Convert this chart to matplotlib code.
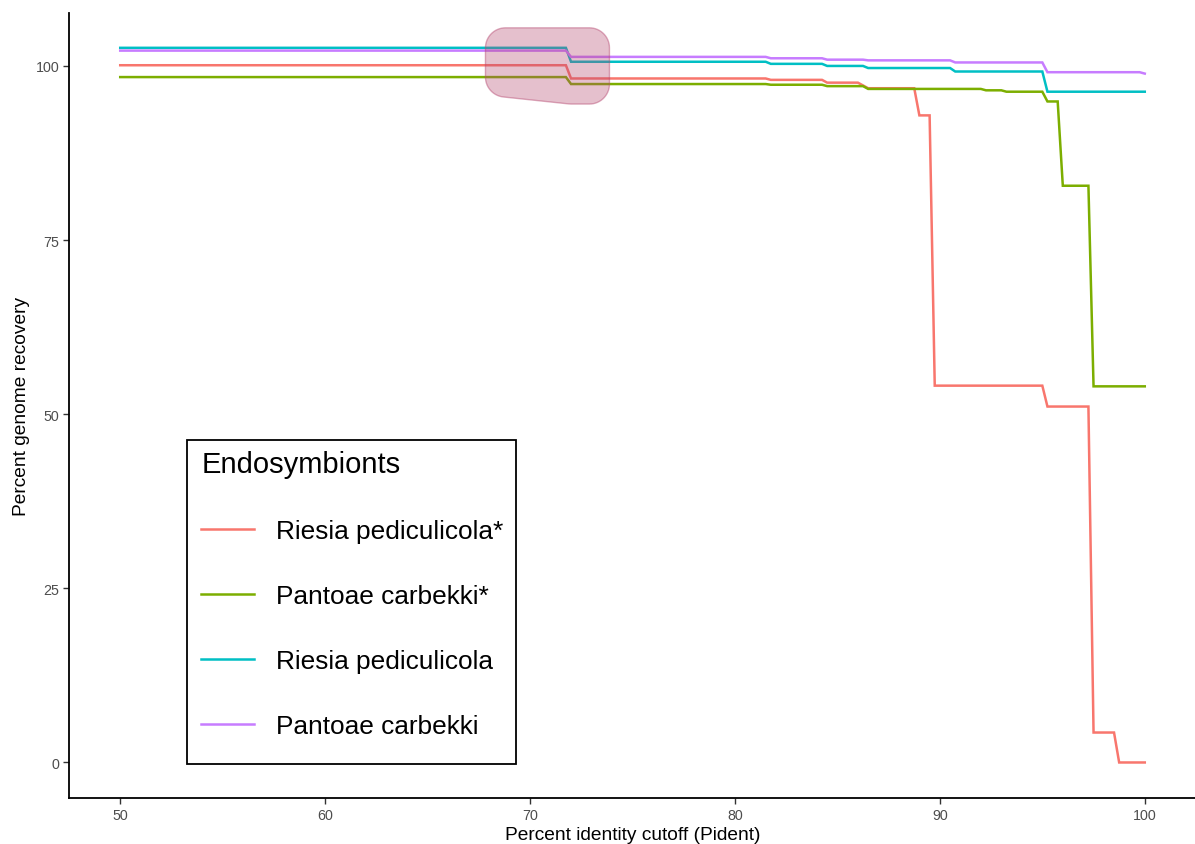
import numpy as np
import matplotlib
matplotlib.use('Agg')
import matplotlib.pyplot as plt
from matplotlib.patches import Polygon, Rectangle
from matplotlib.colors import to_rgba

plt.rcParams['font.family'] = ['Liberation Sans', 'DejaVu Sans']

# percent identity cutoff (x) vs percent genome recovery (y)
riesia_star_x = [50, 71.75, 72, 81.5, 81.75, 84.25, 84.5, 86.0, 86.5, 88.75, 89.0, 89.5, 89.75,
                 95.0, 95.25, 97.25, 97.5, 98.5, 98.75, 100]
riesia_star_y = [100.1, 100.1, 98.2, 98.2, 98.0, 98.0, 97.6, 97.6, 96.8, 96.8, 92.9, 92.9, 54.1,
                 54.1, 51.1, 51.1, 4.3, 4.3, 0.0, 0.0]

pantoae_star_x = [50, 71.75, 72, 81.5, 81.75, 84.25, 84.5, 86.25, 86.5, 92.0, 92.25, 93.0, 93.25,
                  95.0, 95.25, 95.75, 96.0, 97.25, 97.5, 100]
pantoae_star_y = [98.4, 98.4, 97.4, 97.4, 97.3, 97.3, 97.1, 97.1, 96.7, 96.7, 96.5, 96.5, 96.3,
                  96.3, 94.9, 94.9, 82.8, 82.8, 54.0, 54.0]

riesia_x = [50, 71.75, 72, 81.5, 81.75, 84.25, 84.5, 86.25, 86.5, 90.5, 90.75, 95.0, 95.25, 100]
riesia_y = [102.6, 102.6, 100.6, 100.6, 100.3, 100.3, 100.0, 100.0, 99.7, 99.7, 99.2, 99.2, 96.3, 96.3]

pantoae_x = [50, 71.75, 72, 81.5, 81.75, 84.25, 84.5, 86.25, 86.5, 90.5, 90.75, 95.0, 95.25, 99.75, 100]
pantoae_y = [102.2, 102.2, 101.3, 101.3, 101.1, 101.1, 100.9, 100.9, 100.8, 100.8, 100.5, 100.5,
             99.1, 99.1, 98.9]

labels = ['Riesia pediculicola*', 'Pantoae carbekki*', 'Riesia pediculicola', 'Pantoae carbekki']
colours = ['#F8766D', '#7CAE00', '#00BFC4', '#C77CFF']
series = [(riesia_star_x, riesia_star_y), (pantoae_star_x, pantoae_star_y),
          (riesia_x, riesia_y), (pantoae_x, pantoae_y)]

# x window that the highlighted hull wraps
hull_lo, hull_hi = 68.8, 72.9

xticks = [50, 60, 70, 80, 90, 100]
yticks = [0, 25, 50, 75, 100]

W, H = 1195, 845
fig = plt.figure(figsize=(W / 100, H / 100), dpi=100)
ax = fig.add_axes([69 / W, 1 - 799 / H, (1196 - 69) / W, (799 - 14) / H])

handles = []
for (xs, ys), c, lab in zip(series, colours, labels):
    h, = ax.plot(xs, ys, color=c, lw=1.8, label=lab, solid_joinstyle='miter')
    handles.append(h)

ax.set_xlim(47.5, 102.5)
ax.set_ylim(-5.1, 107.6)
ax.set_xticks(xticks)
ax.set_yticks(yticks)
for s in ['top', 'right']:
    ax.spines[s].set_visible(False)
for s in ['left', 'bottom']:
    ax.spines[s].set_linewidth(1.3)
    ax.spines[s].set_color('black')
ax.tick_params(length=4, width=1.0, color='#333333', labelcolor='#4d4d4d', labelsize=10.3, pad=3)
ax.set_xlabel('Percent identity cutoff (Pident)', fontsize=13.8, labelpad=3)
ax.set_ylabel('Percent genome recovery', fontsize=13.8, labelpad=4)


def convex_hull(p):
    p = sorted(map(tuple, p))
    def cross(o, a, b):
        return (a[0] - o[0]) * (b[1] - o[1]) - (a[1] - o[1]) * (b[0] - o[0])
    lower, upper = [], []
    for q in p:
        while len(lower) >= 2 and cross(lower[-2], lower[-1], q) <= 0:
            lower.pop()
        lower.append(q)
    for q in reversed(p):
        while len(upper) >= 2 and cross(upper[-2], upper[-1], q) <= 0:
            upper.pop()
        upper.append(q)
    return np.array(lower[:-1] + upper[:-1])


# points of every series inside the window, plus the window top at its right end
pts = []
for xs, ys in series:
    xs = np.asarray(xs, float); ys = np.asarray(ys, float)
    for xv in (hull_lo, hull_hi):
        pts.append((xv, np.interp(xv, xs, ys)))
    m = (xs > hull_lo) & (xs < hull_hi)
    pts += list(zip(xs[m], ys[m]))
pts.append((hull_hi, max(p[1] for p in pts)))
pix = ax.transData.transform(np.array(pts))
ang = np.linspace(0, 2 * np.pi, 60, endpoint=False)
circ = np.column_stack([np.cos(ang), np.sin(ang)]) * 20
grown = (pix[:, None, :] + circ[None, :, :]).reshape(-1, 2)
hull = ax.transData.inverted().transform(convex_hull(grown))
ax.add_patch(Polygon(hull, closed=True, facecolor=to_rgba('#b5476f', 0.34),
                     edgecolor=to_rgba('#b5476f', 0.45), lw=1.0, zorder=5))

# legend box drawn by hand so its padding matches
ax.add_patch(Rectangle((187 / W, 1 - 765 / H), (516 - 187) / W, (765 - 441) / H,
                       transform=fig.transFigure, facecolor='white', edgecolor='black',
                       lw=1.3, zorder=9, clip_on=False))
leg = ax.legend(handles, labels, loc='upper left', bbox_to_anchor=(188 / W, 1 - 438 / H),
                bbox_transform=fig.transFigure, frameon=False, fontsize=18.9,
                title='Endosymbionts', title_fontsize=21, alignment='left',
                handlelength=2.0, handletextpad=0.85, labelspacing=1.56, borderpad=0.5,
                borderaxespad=0)
leg.set_zorder(10)

fig.savefig('out.png', dpi=100)
